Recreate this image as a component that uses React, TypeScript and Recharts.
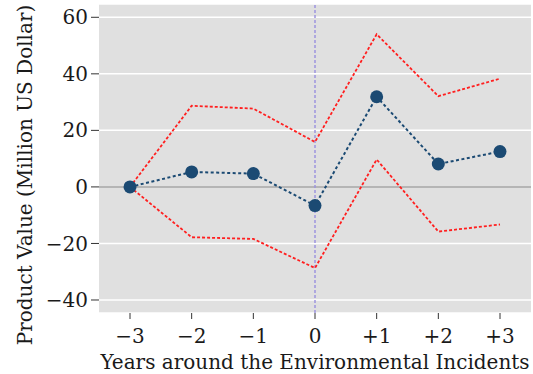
import React from "react";
import {
  ComposedChart,
  Line,
  XAxis,
  YAxis,
  CartesianGrid,
  ReferenceLine,
  Label,
} from "recharts";

// Event-study estimates of product value around environmental incidents
const years = ["−3", "−2", "−1", "0", "+1", "+2", "+3"];
const estimate = [0, 5.3, 4.7, -6.6, 31.9, 8.1, 12.5];
const upperCI = [0, 28.7, 27.7, 15.9, 54.0, 32.1, 38.3];
const lowerCI = [0, -17.8, -18.4, -28.7, 9.7, -15.8, -13.3];
const yTicks = [-40, -20, 0, 20, 40, 60];

const data = years.map((year, i) => ({
  year,
  estimate: estimate[i],
  upper: upperCI[i],
  lower: lowerCI[i],
}));

const FONT = "'DejaVu Serif', serif";
const FS = 20;
const TEXT = "#1a1a1a";
const NAVY = "#1b4a73";
const RED = "#ff1f1f";

const fmtMinus = (v: number) => String(v).replace("-", "−");

const YTitle = () => (
  <text
    x={25}
    y={175}
    transform="rotate(-90, 25, 175)"
    textAnchor="middle"
    dominantBaseline="central"
    fontFamily={FONT}
    fontSize={FS}
    fill={TEXT}
  >
    Product Value (Million US Dollar)
  </text>
);

export default function App() {
  return (
    <div style={{ position: "absolute", left: 0, top: 0 }}>
      <ComposedChart
        width={533}
        height={374}
        data={data}
        margin={{ top: 4, right: 2, bottom: 0, left: 0 }}
      >
        <CartesianGrid
          vertical={false}
          fill="#e0e0e0"
          stroke="#ffffff"
          strokeWidth={1.5}
        />
        <XAxis
          dataKey="year"
          type="category"
          height={61}
          padding={{ left: 31, right: 31 }}
          axisLine={false}
          tickLine={{ stroke: "#333" }}
          tickSize={6}
          tickMargin={10}
          tick={{ fontFamily: FONT, fontSize: FS, fill: TEXT }}
        >
          <Label
            value="Years around the Environmental Incidents"
            position="insideBottom"
            offset={5}
            style={{ fontFamily: FONT, fontSize: FS, fill: TEXT }}
          />
        </XAxis>
        <YAxis
          type="number"
          domain={[-44.6, 64.7]}
          ticks={yTicks}
          width={99}
          axisLine={false}
          tickLine={{ stroke: "#333" }}
          tickSize={8}
          tickMargin={3}
          tickFormatter={fmtMinus}
          tick={{ fontFamily: FONT, fontSize: FS, fill: TEXT }}
        >
          <Label content={<YTitle />} />
        </YAxis>
        <ReferenceLine y={0} stroke="#b5b5b5" strokeWidth={2} />
        <ReferenceLine
          x="0"
          stroke="#9d94de"
          strokeWidth={1.5}
          strokeDasharray="3 2"
        />
        <Line
          dataKey="upper"
          stroke={RED}
          strokeWidth={1.8}
          strokeDasharray="3 2"
          dot={false}
          activeDot={false}
          isAnimationActive={false}
        />
        <Line
          dataKey="lower"
          stroke={RED}
          strokeWidth={1.8}
          strokeDasharray="3 2"
          dot={false}
          activeDot={false}
          isAnimationActive={false}
        />
        <Line
          dataKey="estimate"
          stroke={NAVY}
          strokeWidth={2}
          strokeDasharray="3 2.5"
          dot={{ r: 6.5, fill: NAVY, stroke: NAVY, strokeWidth: 0 }}
          activeDot={false}
          isAnimationActive={false}
        />
      </ComposedChart>
    </div>
  );
}
